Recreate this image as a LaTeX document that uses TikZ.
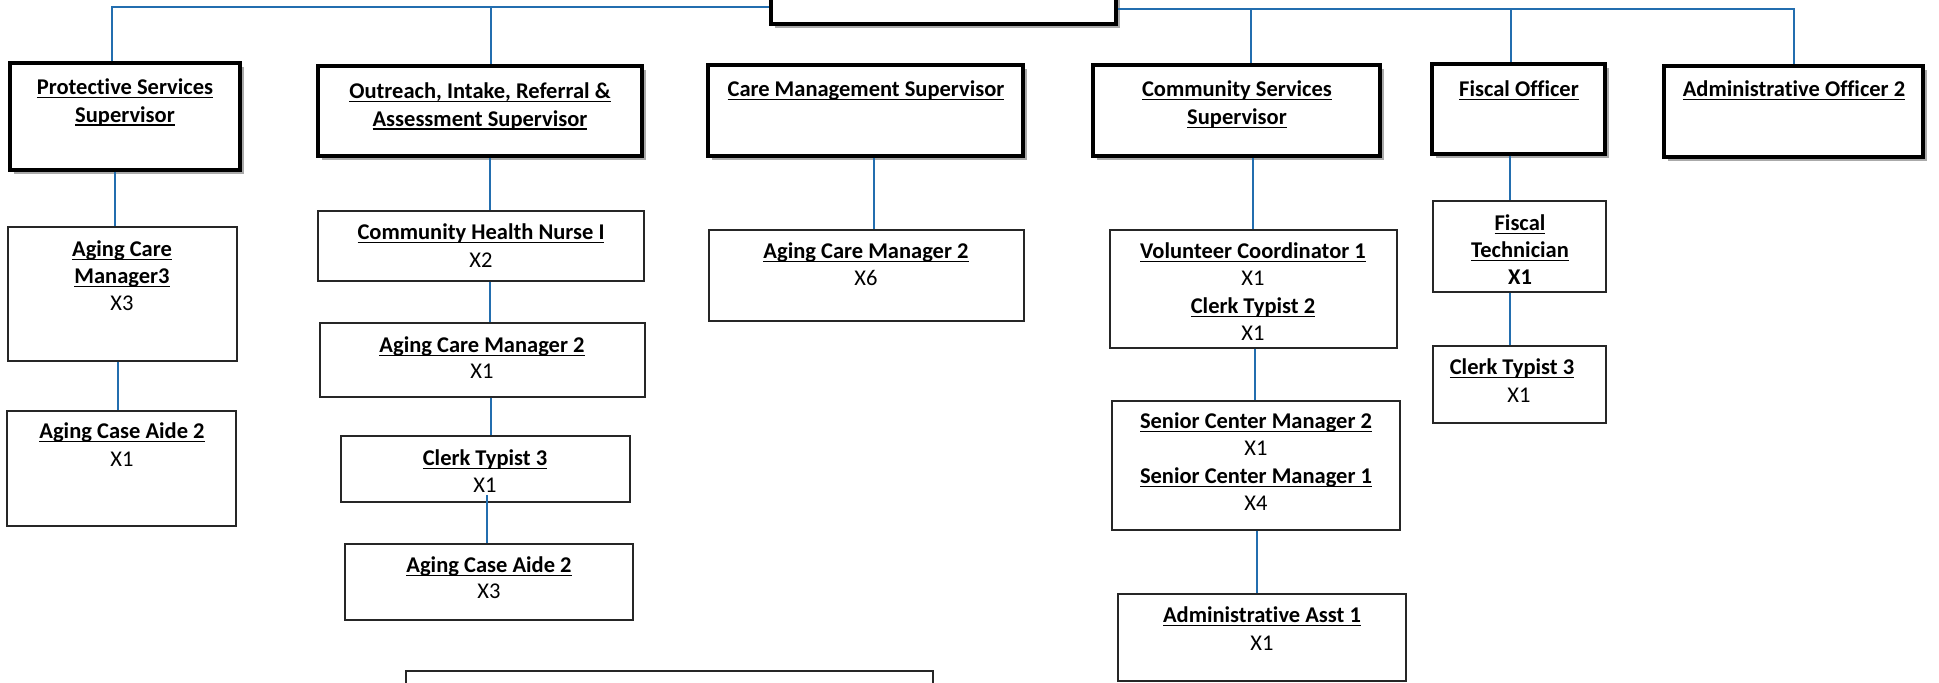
\documentclass[tikz,border=0pt]{standalone}
\usepackage{fontspec}
\setmainfont{Carlito}[Ligatures=NoCommon]
\usetikzlibrary{fit,calc}
\definecolor{connc}{RGB}{35,110,175}
\definecolor{shadowc}{RGB}{170,170,170}
\newcommand{\myul}[1]{\leavevmode\setbox0=\hbox{#1}\rlap{\rule[-1.7pt]{\wd0}{0.75pt}}\box0}
\newcommand{\bigbox}[5]{%
  \fill[shadowc] (#2+4,#3+4) rectangle (#4+4,#5+4);
  \node[bigbox, fit={(#2,#3) (#4,#5)}] (#1) {};}
\tikzset{
  bigbox/.style={draw=black, line width=1.6pt, fill=white, inner sep=0pt},
  smallbox/.style={draw=black!85, line width=0.75pt, fill=white, inner sep=0pt},
  conn/.style={draw=connc, line width=0.8pt},
  tln/.style={anchor=base, inner sep=0pt, font=\fontsize{11.25}{13.5}\selectfont},
  tlb/.style={tln, font=\fontsize{11.25}{13.5}\selectfont\bfseries},
}
\begin{document}
\begin{tikzpicture}[x=0.5pt,y=-0.5pt]
\useasboundingbox (0,0) rectangle (1939,683);
\clip (0,0) rectangle (1939,683);
% ---- top row boxes
\bigbox{top}{771}{-60}{1116}{24}
\bigbox{prot}{10}{63}{240}{170}
\bigbox{outr}{318}{66}{642}{156}
\bigbox{care}{708}{65}{1023}{156}
\bigbox{comm}{1093}{65}{1380}{156}
\bigbox{fisc}{1432}{64}{1605}{154}
\bigbox{admo}{1664}{66}{1923}{157}
% ---- lower boxes
\node[smallbox, fit={(8,227) (237,361)}] (acm3) {};
\node[smallbox, fit={(7,411) (236,526)}] (aca2L) {};
\node[smallbox, fit={(318,211) (644,281)}] (chn) {};
\node[smallbox, fit={(320,323) (645,397)}] (acm2b) {};
\node[smallbox, fit={(341,436) (630,502)}] (ct3b) {};
\node[smallbox, fit={(345,544) (633,620)}] (aca2b) {};
\node[smallbox, fit={(406,671) (933,720)}] (bott) {};
\node[smallbox, fit={(709,230) (1024,321)}] (acm2c) {};
\node[smallbox, fit={(1110,230) (1397,348)}] (vol) {};
\node[smallbox, fit={(1112,401) (1400,530)}] (scm) {};
\node[smallbox, fit={(1118,594) (1406,681)}] (aa1) {};
\node[smallbox, fit={(1433,201) (1606,292)}] (ftech) {};
\node[smallbox, fit={(1433,346) (1606,423)}] (ct3f) {};
% ---- connector columns
\coordinate (hubL) at (112,7);
\coordinate (hubR) at (1794,9);
\coordinate (xoutr) at (491,7);
\coordinate (xcomm) at (1251,9);
\coordinate (xfisc) at (1511,9);
\coordinate (c1) at (115,0);
\coordinate (c2) at (118,0);
\coordinate (c3) at (490,0);
\coordinate (c4) at (491,0);
\coordinate (c6) at (874,0);
\coordinate (c7) at (1253,0);
\coordinate (c8) at (1255,0);
\coordinate (c9) at (1257,0);
\coordinate (c10) at (1510,0);
\coordinate (ct3in) at (487,495);
% ---- connectors
\draw[conn] (prot.north -| hubL) |- (top.west |- hubL);
\draw[conn] (top.east |- hubR) -| (admo.north -| hubR);
\draw[conn] (xoutr) -- (outr.north -| xoutr);
\draw[conn] (xcomm) -- (comm.north -| xcomm);
\draw[conn] (xfisc) -- (fisc.north -| xfisc);
\draw[conn] (prot.south -| c1) -- (acm3.north -| c1);
\draw[conn] (acm3.south -| c2) -- (aca2L.north -| c2);
\draw[conn] (outr.south -| c3) -- (chn.north -| c3);
\draw[conn] (chn.south -| c3) -- (acm2b.north -| c3);
\draw[conn] (acm2b.south -| c4) -- (ct3b.north -| c4);
\draw[conn] (ct3in) -- (aca2b.north -| ct3in);
\draw[conn] (care.south -| c6) -- (acm2c.north -| c6);
\draw[conn] (comm.south -| c7) -- (vol.north -| c7);
\draw[conn] (vol.south -| c8) -- (scm.north -| c8);
\draw[conn] (scm.south -| c9) -- (aa1.north -| c9);
\draw[conn] (fisc.south -| c10) -- (ftech.north -| c10);
\draw[conn] (ftech.south -| c10) -- (ct3f.north -| c10);
% ---- texts
\node[tlb] (prot-1) at (125,95) {\myul{Protective Services}};
\node[tlb] (prot-2) at (125,122.5) {\myul{Supervisor}};
\node[tlb] (outr-1) at (480,99) {\myul{Outreach, Intake, Referral \&}};
\node[tlb] (outr-2) at (480,126.5) {\myul{Assessment Supervisor}};
\node[tlb] (care-1) at (866,97) {\myul{Care Management Supervisor}};
\node[tlb] (comm-1) at (1237,97) {\myul{Community Services}};
\node[tlb] (comm-2) at (1237,125) {\myul{Supervisor}};
\node[tlb] (fisc-1) at (1519,97) {\myul{Fiscal Officer}};
\node[tlb] (admo-1) at (1794,97) {\myul{Administrative Officer 2}};
\node[tlb] (acm3-1) at (122,257) {\myul{Aging Care}};
\node[tlb] (acm3-2) at (122,284) {\myul{Manager3}};
\node[tln] (acm3-3) at (122,311) {X3};
\node[tlb] (aca2L-1) at (122,439) {\myul{Aging Case Aide 2}};
\node[tln] (aca2L-2) at (122,467) {X1};
\node[tlb] (chn-1) at (481,240) {\myul{Community Health Nurse I}};
\node[tln] (chn-2) at (481,268) {X2};
\node[tlb] (acm2b-1) at (482,353) {\myul{Aging Care Manager 2}};
\node[tln] (acm2b-2) at (482,379) {X1};
\node[tlb] (ct3b-1) at (485,466) {\myul{Clerk Typist 3}};
\node[tln] (ct3b-2) at (485,493) {X1};
\node[tlb] (aca2b-1) at (489,573) {\myul{Aging Case Aide 2}};
\node[tln] (aca2b-2) at (489,599) {X3};
\node[tlb] (acm2c-1) at (866,259) {\myul{Aging Care Manager 2}};
\node[tln] (acm2c-2) at (866,286) {X6};
\node[tlb] (vol-1) at (1253,259) {\myul{Volunteer Coordinator 1}};
\node[tln] (vol-2) at (1253,286) {X1};
\node[tlb] (vol-3) at (1253,314) {\myul{Clerk Typist 2}};
\node[tln] (vol-4) at (1253,341) {X1};
\node[tlb] (scm-1) at (1256,429) {\myul{Senior Center Manager 2}};
\node[tln] (scm-2) at (1256,456) {X1};
\node[tlb] (scm-3) at (1256,484) {\myul{Senior Center Manager 1}};
\node[tln] (scm-4) at (1256,511) {X4};
\node[tlb] (aa1-1) at (1262,623) {\myul{Administrative Asst 1}};
\node[tln] (aa1-2) at (1262,651) {X1};
\node[tlb] (ftech-1) at (1520,231) {\myul{Fiscal}};
\node[tlb] (ftech-2) at (1520,258) {\myul{Technician}};
\node[tlb] (ftech-3) at (1520,285) {X1};
\node[tlb] (ct3f-1) at (1512,375) {\myul{Clerk Typist 3}};
\node[tln] (ct3f-2) at (1519,403) {X1};
\end{tikzpicture}
\end{document}
